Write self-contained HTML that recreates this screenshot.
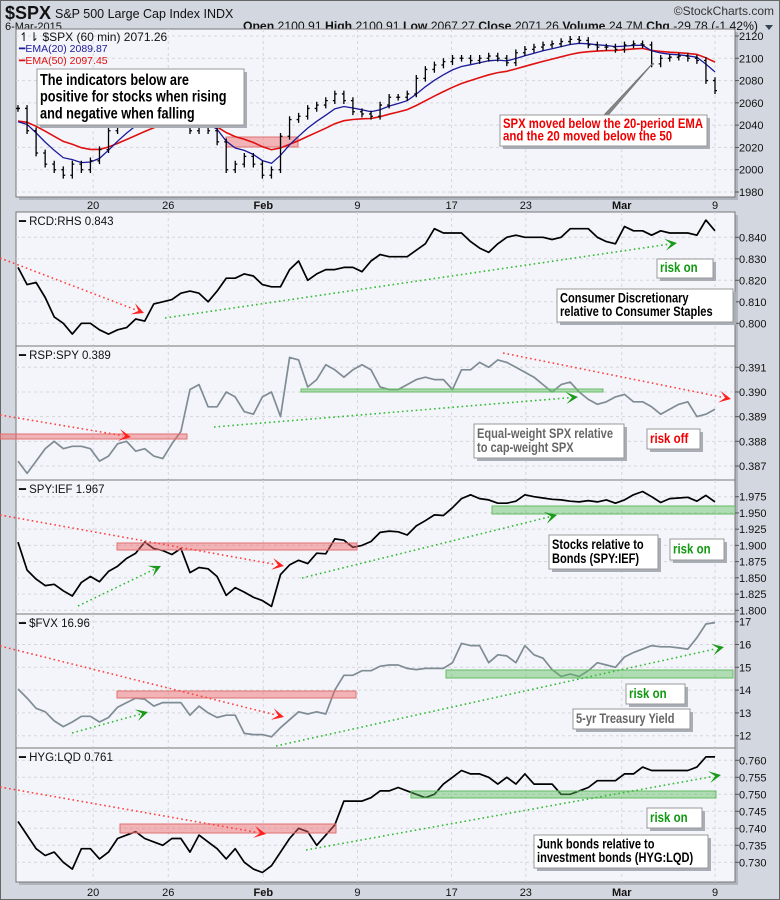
<!DOCTYPE html>
<html><head><meta charset="utf-8"><style>
html,body{margin:0;padding:0;background:#d3d7e0;}
svg{display:block;font-family:"Liberation Sans",sans-serif;}
.nar{font-family:"Liberation Sans Narrow","Liberation Sans",sans-serif;font-weight:bold;}
</style></head><body>
<svg id="chart" width="780" height="900" viewBox="0 0 780 900" xmlns="http://www.w3.org/2000/svg">
<rect x="0.5" y="0.5" width="779" height="899" fill="#d3d7e0" stroke="#666"/>
<text x="5" y="19" font-size="18" font-weight="bold" fill="#111">$SPX</text>
<text x="55" y="18" font-size="12.5" fill="#111">S&amp;P 500 Large Cap Index  INDX</text>
<text x="5" y="30" font-size="11" fill="#111">6-Mar-2015</text>
<text id="ohlc" x="243" y="30" font-size="11.5" fill="#111" textLength="515" lengthAdjust="spacingAndGlyphs"><tspan font-weight="bold">Open</tspan> 2100.91 <tspan font-weight="bold">High</tspan> 2100.91 <tspan font-weight="bold">Low</tspan> 2067.27 <tspan font-weight="bold">Close</tspan> 2071.26 <tspan font-weight="bold">Volume</tspan> 24.7M <tspan font-weight="bold">Chg</tspan> -29.78 (-1.42%)</text>
<path d="M765 25 L773 25 L769 30 Z" fill="#345"/>
<text x="774" y="15" font-size="12" fill="#333" text-anchor="end">©StockCharts.com</text>
<g id="layer"></g>
</svg>
<script>
// ---- data (one value per ~half trading day, Jan 14 – Mar 6 2015) ----
const spxClose=[2055,2035,2015,2005,2000,1995,2005,2000,2008,2018,2035,2045,2050,2055,2058,2060,2060,2055,2045,2035,2038,2035,2025,2000,2005,2012,2005,1995,2000,2030,2045,2048,2055,2058,2062,2068,2062,2052,2050,2048,2058,2065,2065,2068,2082,2090,2094,2097,2100,2100,2098,2100,2102,2100,2096,2105,2108,2110,2112,2113,2115,2117,2116,2112,2110,2110,2108,2112,2113,2112,2095,2100,2101,2102,2100,2098,2080,2071];
const rcdRhs=[0.826,0.818,0.819,0.812,0.803,0.800,0.795,0.800,0.800,0.797,0.795,0.797,0.798,0.802,0.801,0.809,0.810,0.811,0.814,0.815,0.814,0.810,0.815,0.821,0.821,0.823,0.822,0.818,0.817,0.817,0.825,0.829,0.820,0.823,0.825,0.825,0.826,0.826,0.824,0.829,0.832,0.831,0.831,0.831,0.834,0.837,0.844,0.842,0.842,0.842,0.838,0.835,0.833,0.837,0.840,0.841,0.840,0.840,0.840,0.839,0.840,0.844,0.844,0.844,0.840,0.838,0.837,0.845,0.843,0.843,0.841,0.843,0.842,0.842,0.842,0.841,0.848,0.843];
const rspSpy=[0.3872,0.3867,0.3872,0.3877,0.3880,0.3877,0.3878,0.3878,0.3877,0.3872,0.3874,0.3879,0.3880,0.3876,0.3877,0.3874,0.3873,0.3879,0.3884,0.3901,0.3903,0.3894,0.3894,0.3900,0.3898,0.3892,0.3891,0.3898,0.3900,0.3890,0.3914,0.3913,0.3902,0.3905,0.3911,0.3909,0.3906,0.3909,0.3911,0.3909,0.3902,0.3901,0.3901,0.3903,0.3905,0.3906,0.3905,0.3905,0.3901,0.3909,0.3909,0.3912,0.3910,0.3913,0.3912,0.3910,0.3908,0.3906,0.3903,0.3900,0.3903,0.3904,0.3900,0.3897,0.3895,0.3896,0.3898,0.3899,0.3896,0.3896,0.3894,0.3891,0.3893,0.3895,0.3896,0.3890,0.3891,0.3893];
const spyIef=[1.905,1.862,1.848,1.838,1.840,1.830,1.822,1.843,1.852,1.844,1.860,1.868,1.880,1.888,1.905,1.895,1.892,1.886,1.895,1.858,1.866,1.864,1.852,1.823,1.835,1.828,1.820,1.815,1.806,1.855,1.870,1.877,1.872,1.888,1.887,1.910,1.908,1.897,1.900,1.906,1.920,1.922,1.921,1.916,1.930,1.938,1.947,1.946,1.958,1.972,1.978,1.972,1.970,1.965,1.965,1.968,1.978,1.975,1.973,1.971,1.970,1.968,1.967,1.969,1.967,1.970,1.965,1.970,1.978,1.983,1.975,1.966,1.972,1.973,1.974,1.968,1.977,1.967];
const fvx=[14.05,13.65,13.2,13.05,12.65,12.4,12.6,12.85,12.85,12.6,12.8,13.25,13.45,13.65,13.6,13.3,13.45,13.45,13.45,12.9,13.3,13.0,12.8,12.9,12.9,12.1,12.05,12.05,11.95,12.35,12.7,13.05,12.95,13.05,12.95,14.0,14.65,14.65,14.85,14.85,15.05,15.1,15.1,14.95,14.9,14.95,14.95,14.95,15.2,16.05,15.95,15.95,15.2,15.55,15.5,15.2,15.95,15.55,15.4,14.9,14.6,14.7,14.6,14.85,15.2,15.1,15.0,15.45,15.65,15.8,15.95,15.9,15.9,15.85,15.8,16.3,16.9,16.96];
const hygLqd=[0.742,0.738,0.734,0.732,0.733,0.730,0.728,0.734,0.734,0.731,0.733,0.737,0.738,0.739,0.737,0.736,0.735,0.737,0.737,0.733,0.738,0.736,0.734,0.731,0.734,0.730,0.728,0.727,0.729,0.733,0.737,0.740,0.739,0.735,0.738,0.741,0.748,0.748,0.748,0.749,0.751,0.751,0.752,0.751,0.750,0.749,0.750,0.753,0.755,0.757,0.756,0.756,0.755,0.753,0.755,0.753,0.756,0.753,0.753,0.753,0.750,0.750,0.751,0.752,0.754,0.754,0.754,0.756,0.756,0.758,0.757,0.757,0.757,0.757,0.757,0.758,0.761,0.761];
const dateLabels=["20","26","Feb","9","17","23","Mar","9"];
const dateIdx=[8.3,16.6,27.1,37.5,47.9,56.1,66.7,77];
const spxTicks=[1980,2000,2020,2040,2060,2080,2100,2120];
const rcdTicks=[0.800,0.810,0.820,0.830,0.840];
const rspTicks=[0.387,0.388,0.389,0.390,0.391];
const spyTicks=[1.800,1.825,1.850,1.875,1.900,1.925,1.950,1.975];
const fvxTicks=[12,13,14,15,16,17];
const hygTicks=[0.730,0.735,0.740,0.745,0.750,0.755,0.760];

const NS="http://www.w3.org/2000/svg";
const layer=document.getElementById('layer');
const X0=16,X1=735;
function xs(i){return 18+i*(697/77);}
function mk(tag,attrs,parent){const e=document.createElementNS(NS,tag);for(const k in attrs)e.setAttribute(k,attrs[k]);(parent||layer).appendChild(e);return e;}
function lin(v0,y0,v1,y1){return v=>y0+(v-v0)*(y1-y0)/(v1-v0);}

const panels=[
 {id:'spx',top:29,bot:197,y:lin(2120,36,1980,192),ticks:spxTicks,fmt:v=>String(v)},
 {id:'rcd',top:212,bot:346,y:lin(0.840,237.3,0.800,323.3),ticks:rcdTicks,fmt:v=>v.toFixed(3),data:rcdRhs,color:'#000',title:'RCD:RHS 0.843'},
 {id:'rsp',top:346,bot:480,y:lin(0.391,367.3,0.387,466),ticks:rspTicks,fmt:v=>v.toFixed(3),data:rspSpy,color:'#7f8c95',title:'RSP:SPY 0.389'},
 {id:'spy',top:480,bot:614,y:lin(1.975,496.7,1.800,610.3),ticks:spyTicks,fmt:v=>v.toFixed(3),data:spyIef,color:'#000',title:'SPY:IEF 1.967'},
 {id:'fvx',top:614,bot:748,y:lin(17,621.7,12,735.7),ticks:fvxTicks,fmt:v=>String(v),data:fvx,color:'#7f8c95',title:'$FVX 16.96'},
 {id:'hyg',top:748,bot:882,y:lin(0.760,760.3,0.730,862.3),ticks:hygTicks,fmt:v=>v.toFixed(3),data:hygLqd,color:'#000',title:'HYG:LQD 0.761'}
];

const defs=mk('defs',{});
panels.forEach(p=>{
  const g=mk('g',{});
  
  
  mk('rect',{x:X0+3,y:p.top+3,width:X1-X0,height:p.bot-p.top,fill:'#b0b4bd'},g);
  const bg=mk('rect',{x:X0,y:p.top,width:X1-X0,height:p.bot-p.top,fill:'#f4f5fa',stroke:'#777','stroke-width':1},g);
  
  
  const cp=mk('clipPath',{id:'cp-'+p.id},defs);
  mk('rect',{x:X0,y:p.top,width:X1-X0,height:p.bot-p.top},cp);
  p.g=mk('g',{'clip-path':'url(#cp-'+p.id+')'},g);
  dateIdx.forEach(di=>{mk('line',{x1:xs(di),x2:xs(di),y1:p.top,y2:p.bot,stroke:'#d4d6dc','stroke-dasharray':'3,3'},p.g);});
  p.ticks.forEach(t=>{
    const yy=p.y(t);
    mk('line',{x1:X0,x2:X1,y1:yy,y2:yy,stroke:'#d4d6dc','stroke-dasharray':'3,3'},p.g);
    mk('line',{x1:X1,x2:X1+4,y1:yy,y2:yy,stroke:'#555'},g);
    const tx=mk('text',{x:X1+4,y:yy+4,'font-size':11,fill:'#111'},g);
    tx.textContent=p.fmt(t);
    
    
  });
});

[[205,'top-date-axis'],[892,'bottom-date-axis']].forEach(([yy,nm])=>{
  dateLabels.forEach((d,k)=>{
    const t=mk('text',{x:xs(dateIdx[k]),y:yy+4,'font-size':11,'text-anchor':'middle',fill:'#111','font-weight':(d==='Feb'||d==='Mar')?'bold':'normal'});
    t.textContent=d;
    
    
  });
});

function band(p,x1,y1,x2,y2,col,name){
  const r=mk('rect',{x:x1,y:y1,width:x2-x1,height:y2-y1,fill:col==='r'?'rgba(240,100,100,0.45)':'rgba(90,190,90,0.45)',stroke:col==='r'?'#e07070':'#66bb66'},p?p.g:layer);
  
  
}
function arrow(x1,y1,x2,y2,col,name){
  const c=col==='r'?'#ff2020':'#1a9a1a';
  const g=mk('g',{});
  
  
  const a=Math.atan2(y2-y1,x2-x1);
  mk('line',{x1:x1,y1:y1,x2:x2-8*Math.cos(a),y2:y2-8*Math.sin(a),stroke:col==='r'?'#ff4040':'#33bb33','stroke-width':1.6,'stroke-dasharray':'1.6,3'},g);
  const L=12,W=6;
  const bx=x2-L*Math.cos(a),by=y2-L*Math.sin(a);
  const px=-Math.sin(a)*W,py=Math.cos(a)*W;
  mk('path',{d:`M${x2},${y2} L${bx+px},${by+py} L${x2-6*Math.cos(a)},${y2-6*Math.sin(a)} L${bx-px},${by-py} Z`,fill:c},g);
}
function box(x1,y1,x2,y2,lines,col,fs,name){
  const g=mk('g',{});
  
  
  mk('rect',{x:x1+3,y:y1+3,width:x2-x1,height:y2-y1,fill:'#a9adb5'},g);
  mk('rect',{x:x1,y:y1,width:x2-x1,height:y2-y1,fill:'#fff',stroke:'#999'},g);
  const lh=(y2-y1-6)/lines.length;
  lines.forEach((l,k)=>{
    const t=mk('text',{x:x1+3,y:y1+3+lh*(k+0.78),'font-size':fs,fill:col,class:'nar'},g);
    t.textContent=l;
    const w=t.getComputedTextLength();
    const target=Math.min(w*0.82,x2-x1-7);
    t.setAttribute('textLength',target.toFixed(1));
    t.setAttribute('lengthAdjust','spacingAndGlyphs');
  });
}

// ---- SPX panel ----
const P=panels[0];
const a20=1-Math.pow(1-2/21,3.5), a50=1-Math.pow(1-2/51,3.5);
let e20=2038,e50=2042; const ema20=[],ema50=[];
spxClose.forEach(c=>{e20+=a20*(c-e20);e50+=a50*(c-e50);ema20.push(e20);ema50.push(e50);});
band(P,226,137,298,147,'r','spx-red-zone');
function poly(arr,yf){return arr.map((v,i)=>(i?'L':'M')+xs(i).toFixed(1)+','+yf(v).toFixed(1)).join(' ');}
const l50=mk('path',{d:poly(ema50,P.y),fill:'none',stroke:'#e01010','stroke-width':1.6},P.g);


const l20=mk('path',{d:poly(ema20,P.y),fill:'none',stroke:'#1a1a9a','stroke-width':1.3},P.g);


spxClose.forEach((c,i)=>{
  const prev=i?spxClose[i-1]:c;
  const hi=Math.max(c,prev)+3, lo=Math.min(c,prev)-3;
  const b=mk('path',{d:`M${xs(i)},${P.y(hi)} L${xs(i)},${P.y(lo)} M${xs(i)-2},${P.y(prev)} L${xs(i)},${P.y(prev)} M${xs(i)},${P.y(c)} L${xs(i)+2},${P.y(c)}`,stroke:'#000','stroke-width':1.3,fill:'none'},P.g);
  
  
});
const lg=mk('g',{});  
[['↿⇂ $SPX (60 min) 2071.26','#000',41],['━EMA(20) 2089.87','#1a1a9a',52],['━EMA(50) 2097.45','#e01010',64]].forEach(([t,c,yy],k)=>{
  const tx=mk('text',{x:19,y:yy,'font-size':k?10.5:12,fill:k?c:'#111'},lg);tx.textContent=t;
});
box(37,69,244,125,['The indicators below are','positive for stocks when rising','and negative when falling'],'#000',15.5,'indicators-note');
const ptr=mk('path',{d:'M653,63 L605,114 L609,114 Z',fill:'#888',stroke:'#777'});


box(500,115,707,146,['SPX moved below the 20-period EMA','and the 20 moved below the 50'],'#ee0000',14,'spx-callout');

panels.slice(1).forEach(p=>{
  const l=mk('path',{d:poly(p.data,p.y),fill:'none',stroke:p.color,'stroke-width':1.7,'stroke-linejoin':'round'},p.g);
  
  
  const t=mk('text',{x:19,y:p.top+13,'font-size':11.5,fill:'#111'});
  t.textContent='━ '+p.title;
  
  
});
const [R,S,Y,F,H]=panels.slice(1);
arrow(0,258,144,313,'r','rcd-down-arrow');
arrow(165,318,677,243,'g','rcd-up-trendline');
box(657,259,713,278,['risk on'],'#119911',14,'rcd-risk-on');
box(557,289,733,322,['Consumer Discretionary','relative to Consumer Staples'],'#000',13.5,'rcd-note');

band(null,0,434,187,439,'r','rsp-red-zone');
arrow(0,415,131,437,'r','rsp-down-arrow');
band(S,301,389,603,392,'g','rsp-green-zone');
arrow(214,427,578,397,'g','rsp-up-trendline');
arrow(503,353,731,399,'r','rsp-down-trendline');
box(474,424,624,458,['Equal-weight SPX relative','to cap-weight SPX'],'#666',13.5,'rsp-note');
box(647,429,700,449,['risk off'],'#ee0000',14,'rsp-risk-off');

band(Y,117,543,357,550,'r','spy-red-zone');
arrow(0,515,284,566,'r','spy-down-arrow');
band(Y,492,506,735,514,'g','spy-green-zone');
arrow(78,606,161,566,'g','spy-up-arrow');
arrow(302,578,557,515,'g','spy-up-trendline');
box(549,535,658,569,['Stocks relative to','Bonds (SPY:IEF)'],'#000',13.5,'spy-note');
box(670,539,724,560,['risk on'],'#119911',14,'spy-risk-on');

band(F,117,691,356,698,'r','fvx-red-zone');
arrow(0,646,284,717,'r','fvx-down-arrow');
band(F,446,670,733,678,'g','fvx-green-zone');
arrow(72,733,148,712,'g','fvx-up-arrow');
arrow(276,746,724,647,'g','fvx-up-trendline');
box(626,684,685,704,['risk on'],'#119911',14,'fvx-risk-on');
box(573,709,690,729,['5-yr Treasury Yield'],'#666',13.5,'fvx-note');

band(H,120,824,336,833,'r','hyg-red-zone');
arrow(0,787,266,834,'r','hyg-down-arrow');
band(H,411,791,716,798,'g','hyg-green-zone');
arrow(306,850,721,775,'g','hyg-up-trendline');
box(647,808,702,828,['risk on'],'#119911',14,'hyg-risk-on');
box(534,835,708,868,['Junk bonds relative to','investment bonds (HYG:LQD)'],'#000',13.5,'hyg-note');
</script>
</body></html>
